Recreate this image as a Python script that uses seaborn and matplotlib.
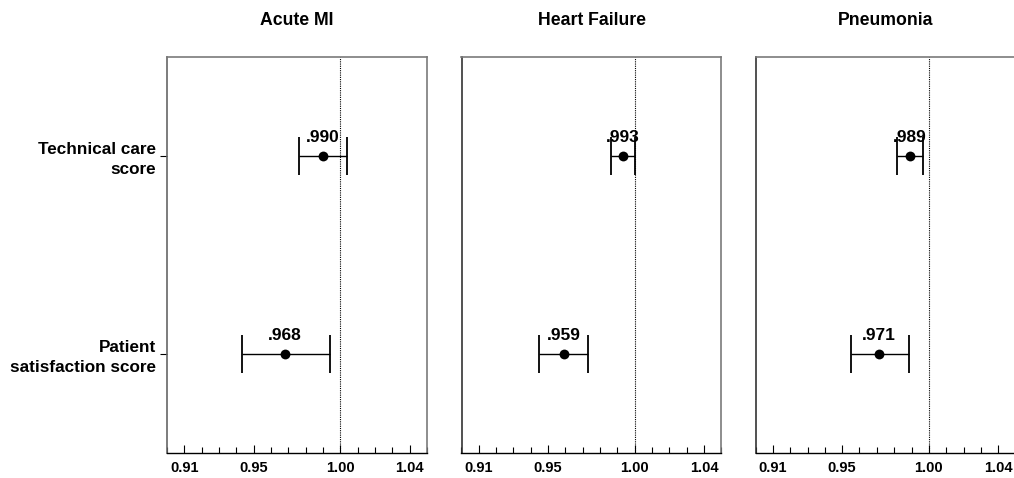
import matplotlib
matplotlib.use("Agg")
import matplotlib.pyplot as plt
import seaborn as sns
import pandas as pd
import numpy as np
from matplotlib.ticker import MultipleLocator, FixedLocator

sns.set_theme(style="white")
plt.rcParams['font.family'] = ['Liberation Sans', 'DejaVu Sans']

conditions = ["Acute MI", "Heart Failure", "Pneumonia"]
measures = ["Technical care\nscore", "Patient\nsatisfaction score"]
estimates = [[0.990, 0.968], [0.993, 0.959], [0.989, 0.971]]
lower = [[0.976, 0.943], [0.986, 0.945], [0.9815, 0.955]]
upper = [[1.004, 0.994], [1.000, 0.973], [0.9965, 0.9887]]
labels = [[".990", ".968"], [".993", ".959"], [".989", ".971"]]
xticks = [0.91, 0.95, 1.00, 1.04]
xticklabels = ["0.91", "0.95", "1.00", "1.04"]

fig = plt.figure(figsize=(10.14, 4.78), dpi=100)
W, H = 1014, 478
lefts = [167, 461.5, 755.5]
aw, ab, ah = 260, 25, 396.5

for i, cond in enumerate(conditions):
    ax = fig.add_axes([lefts[i] / W, ab / H, aw / W, ah / H])
    df = pd.DataFrame({
        "measure": measures,
        "pos": [0, 1],
        "est": estimates[i],
        "lo": lower[i],
        "hi": upper[i],
        "label": labels[i],
    })
    ax.axvline(1.0, color="black", linestyle=(0, (1, 1)), linewidth=0.8, zorder=1)
    ax.errorbar(df["est"], df["pos"],
                xerr=[df["est"] - df["lo"], df["hi"] - df["est"]],
                fmt="none", ecolor="black", elinewidth=1.0,
                capsize=14, capthick=1.3, zorder=2)
    sns.scatterplot(data=df, x="est", y="pos", ax=ax, color="black",
                    s=50, edgecolor="black", linewidth=0, zorder=3, legend=False)
    for _, r in df.iterrows():
        ax.text(r["est"], r["pos"] - 0.055, r["label"], ha="center", va="bottom",
                fontsize=12.5, fontweight="bold", color="black")
    ax.set_xlim(0.90, 1.05)
    ax.set_ylim(1.5, -0.5)
    ax.xaxis.set_major_locator(FixedLocator(xticks))
    ax.set_xticklabels(xticklabels)
    ax.xaxis.set_minor_locator(MultipleLocator(0.01))
    ax.tick_params(axis="x", which="major", direction="in", length=6, width=0.8,
                   colors="black", labelsize=10.5, pad=6, bottom=True)
    ax.tick_params(axis="x", which="minor", direction="in", length=4, width=0.8,
                   colors="black", bottom=True)
    for lab in ax.get_xticklabels():
        lab.set_fontweight("bold")
    if i == 0:
        ax.set_yticks([0, 1])
        ax.set_yticklabels(measures, fontsize=12.3, fontweight="bold", ha="right",
                           linespacing=1.4)
        ax.tick_params(axis="y", direction="out", length=5, width=0.8,
                       colors="black", pad=3, left=True)
    else:
        ax.set_yticks([])
    ax.set_xlabel("")
    ax.set_ylabel("")
    ax.set_title(cond, fontsize=12.7, fontweight="bold", pad=23, color="black")
    for side in ["top", "right"]:
        ax.spines[side].set_color("#7a7a7a")
        ax.spines[side].set_linewidth(1.2)
    ax.spines["left"].set_color("#333333" if i else "#666666")
    ax.spines["left"].set_linewidth(1.2)
    ax.spines["bottom"].set_color("black")
    ax.spines["bottom"].set_linewidth(1.0)
    ax.grid(False)

fig.savefig("out.png", dpi=100, facecolor="white")
